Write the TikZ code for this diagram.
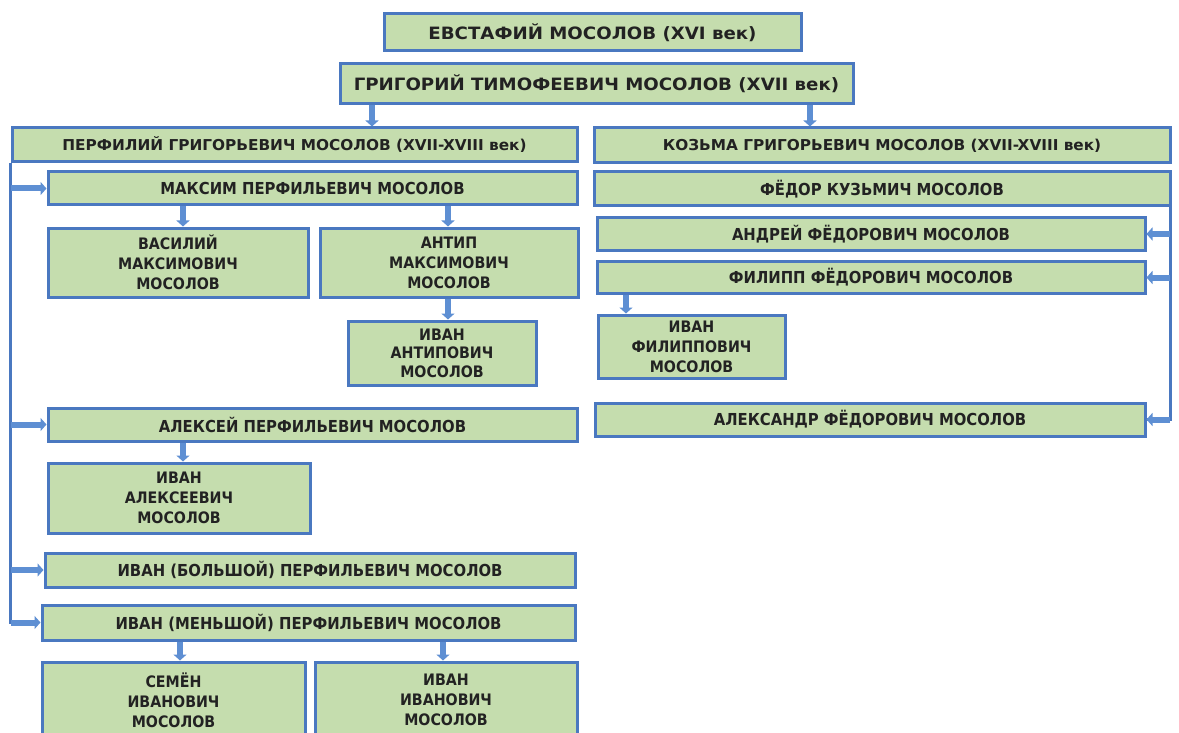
\documentclass[tikz,border=0pt]{standalone}
\usepackage{fontspec}
\newfontfamily\labA{DejaVu Sans Condensed}
\newfontfamily\labB{DejaVu Sans}[FakeStretch=1.07]
\newfontfamily\labC{DejaVu Sans Condensed}[FakeStretch=1.135]
\usetikzlibrary{arrows.meta,calc}
\definecolor{boxfill}{HTML}{C5DDAE}
\definecolor{boxline}{HTML}{4A78C0}
\definecolor{arrcol}{HTML}{5E8FD3}
\definecolor{txt}{HTML}{222222}
\tikzset{
  box/.style={draw=boxline, line width=3pt, fill=boxfill, inner sep=0pt, align=center,
    text=txt, font=\labA\bfseries\fontsize{16.5}{20}\selectfont},
  threeline/.style={font=\labA\bfseries\fontsize{15.8}{20}\selectfont},
  bigtext/.style={font=\labB\bfseries\fontsize{17}{20}\selectfont},
  midtext/.style={font=\labC\bfseries\fontsize{15}{20}\selectfont},
  arr/.style={draw=arrcol, line width=6pt, -{Triangle[width=13pt,length=6pt]}},
  trunk/.style={draw=boxline, line width=3pt},
}
\begin{document}
\begin{tikzpicture}[x=1pt,y=-1pt]
\useasboundingbox (0,0) rectangle (1179,733);
\fill[white] (0,0) rectangle (1179,733);
% nodes
\node[box,bigtext,minimum width=417pt,minimum height=37pt] (evst) at (592.5,32.5) {ЕВСТАФИЙ МОСОЛОВ (XVI век)};
\node[box,bigtext,minimum width=513pt,minimum height=40pt] (grig) at (596.5,84) {ГРИГОРИЙ ТИМОФЕЕВИЧ МОСОЛОВ (XVII век)};
\node[box,midtext,minimum width=565pt,minimum height=34pt] (perf) at (294.5,145) {ПЕРФИЛИЙ ГРИГОРЬЕВИЧ МОСОЛОВ (XVII-XVIII век)};
\node[box,midtext,minimum width=576pt,minimum height=35pt] (kozma) at (882,145.5) {КОЗЬМА ГРИГОРЬЕВИЧ МОСОЛОВ (XVII-XVIII век)};
\node[box,minimum width=576pt,minimum height=34pt] (fedor) at (882,189) {ФЁДОР КУЗЬМИЧ МОСОЛОВ};
\node[box,minimum width=548pt,minimum height=32pt] (andrey) at (871,234) {АНДРЕЙ ФЁДОРОВИЧ МОСОЛОВ};
\node[box,minimum width=548pt,minimum height=32pt] (filipp) at (871,277.5) {ФИЛИПП ФЁДОРОВИЧ МОСОЛОВ};
\node[box,threeline,minimum width=187pt,minimum height=63pt] (ivfil) at (691.5,346.5) {ИВАН\\ФИЛИППОВИЧ\\МОСОЛОВ};
\node[box,minimum width=550pt,minimum height=33pt] (alexandr) at (870,419.5) {АЛЕКСАНДР ФЁДОРОВИЧ МОСОЛОВ};
\node[box,minimum width=529pt,minimum height=33pt] (maksim) at (312.5,188.5) {МАКСИМ ПЕРФИЛЬЕВИЧ МОСОЛОВ};
\node[box,threeline,minimum width=260pt,minimum height=69pt] (vasiliy) at (178,262.5) {ВАСИЛИЙ\\МАКСИМОВИЧ\\МОСОЛОВ};
\node[box,threeline,minimum width=258pt,minimum height=69pt] (antip) at (449,262.5) {АНТИП\\МАКСИМОВИЧ\\МОСОЛОВ};
\node[box,threeline,font=\labA\bfseries\fontsize{15.8}{18.5}\selectfont,minimum width=188pt,minimum height=64pt] (ivantip) at (442,353) {ИВАН\\АНТИПОВИЧ\\МОСОЛОВ};
\node[box,minimum width=529pt,minimum height=33pt] (aleksey) at (312.5,424.5) {АЛЕКСЕЙ ПЕРФИЛЬЕВИЧ МОСОЛОВ};
\node[box,threeline,minimum width=262pt,minimum height=70pt] (ivalex) at (179,498) {ИВАН\\АЛЕКСЕЕВИЧ\\МОСОЛОВ};
\node[box,minimum width=530pt,minimum height=34pt] (bolshoy) at (310,570) {ИВАН (БОЛЬШОЙ) ПЕРФИЛЬЕВИЧ МОСОЛОВ};
\node[box,minimum width=533pt,minimum height=35pt] (menshoy) at (308.5,622.5) {ИВАН (МЕНЬШОЙ) ПЕРФИЛЬЕВИЧ МОСОЛОВ};
\node[box,threeline,minimum width=263pt,minimum height=76pt] (semen) at (173.5,700) {СЕМЁН\\ИВАНОВИЧ\\МОСОЛОВ};
\node[box,threeline,minimum width=262pt,minimum height=76pt] (ivivan) at (446,700) {ИВАН\\ИВАНОВИЧ\\МОСОЛОВ};
% down arrows
\draw[arr] (372,0 |- grig.south) -- (372,0 |- perf.north);
\draw[arr] (810,0 |- grig.south) -- (810,0 |- kozma.north);
\draw[arr] (183,0 |- maksim.south) -- (183,0 |- vasiliy.north);
\draw[arr] (448,0 |- maksim.south) -- (448,0 |- antip.north);
\draw[arr] (448,0 |- antip.south) -- (448,0 |- ivantip.north);
\draw[arr] (626,0 |- filipp.south) -- (626,0 |- ivfil.north);
\draw[arr] (183,0 |- aleksey.south) -- (183,0 |- ivalex.north);
\draw[arr] (180,0 |- menshoy.south) -- (180,0 |- semen.north);
\draw[arr] (443,0 |- menshoy.south) -- (443,0 |- ivivan.north);
% left trunk
\draw[trunk] (perf.south west) |- ([xshift=-1.5pt]menshoy.west);
\draw[arr] (perf.south west |- maksim.west) -- (maksim.west);
\draw[arr] (perf.south west |- aleksey.west) -- (aleksey.west);
\draw[arr] (perf.south west |- bolshoy.west) -- (bolshoy.west);
\draw[arr] (perf.south west |- menshoy.west) -- (menshoy.west);
% right trunk
\draw[trunk] ([xshift=-1.5pt]fedor.south east) |- (alexandr.east);
\draw[arr] ([xshift=-1.5pt]fedor.south east |- andrey.east) -- (andrey.east);
\draw[arr] ([xshift=-1.5pt]fedor.south east |- filipp.east) -- (filipp.east);
\draw[arr] ([xshift=-1.5pt]fedor.south east |- alexandr.east) -- (alexandr.east);
\end{tikzpicture}
\end{document}
